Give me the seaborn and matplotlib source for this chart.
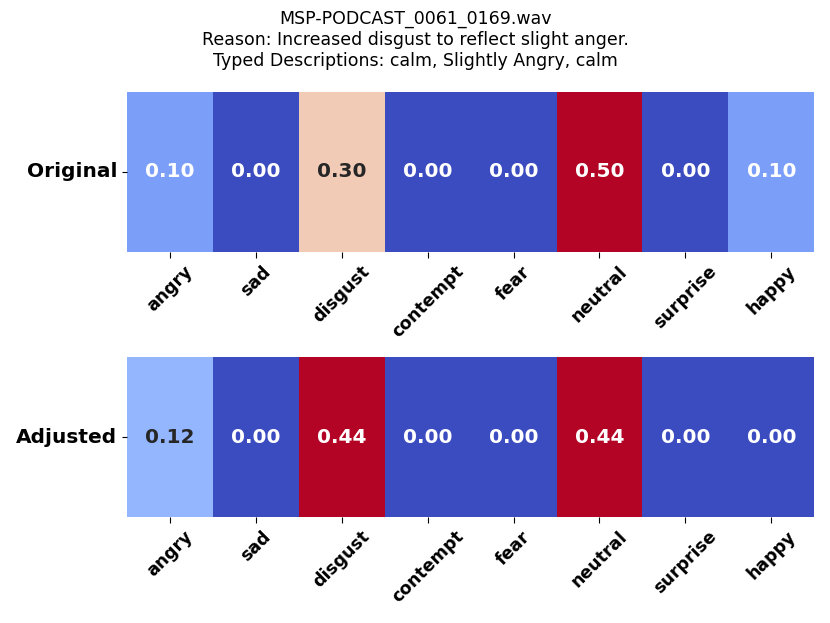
import matplotlib
matplotlib.use("Agg")
import matplotlib.pyplot as plt
import numpy as np
import pandas as pd
import seaborn as sns

EMOTIONS = ["angry", "sad", "disgust", "contempt", "fear", "neutral", "surprise", "happy"]
ORIGINAL = [0.10, 0.00, 0.30, 0.00, 0.00, 0.50, 0.00, 0.10]
ADJUSTED = [0.12, 0.00, 0.44, 0.00, 0.00, 0.44, 0.00, 0.00]
TITLE = ("MSP-PODCAST_0061_0169.wav\n"
         "Reason: Increased disgust to reflect slight anger.\n"
         "Typed Descriptions: calm, Slightly Angry, calm")


def draw_row(ax, values, label):
    df = pd.DataFrame([values], columns=EMOTIONS, index=[label])
    sns.heatmap(
        df,
        ax=ax,
        annot=True,
        fmt=".2f",
        cmap="coolwarm",
        cbar=False,
        annot_kws={"fontsize": 14.5, "fontweight": "bold"},
    )
    ax.set_yticklabels([label], rotation=0, fontsize=14.5, fontweight="bold")
    ax.set_xticklabels(EMOTIONS, rotation=45, fontsize=12.5, fontweight="bold")
    ax.tick_params(axis="x", length=4)


fig = plt.figure(figsize=(8.3, 6.23), dpi=100)
ax1 = fig.add_axes([0.153, 0.5955, 0.828, 0.257])
ax2 = fig.add_axes([0.153, 0.170, 0.828, 0.257])
draw_row(ax1, ORIGINAL, "Original")
draw_row(ax2, ADJUSTED, "Adjusted")
fig.suptitle(TITLE, fontsize=12.5, y=0.984)
fig.savefig("out.png", dpi=100)
